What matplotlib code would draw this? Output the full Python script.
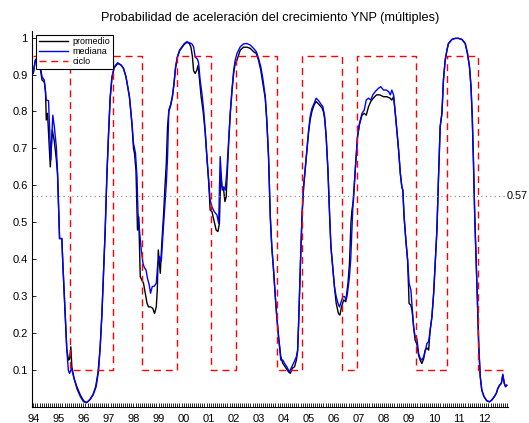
import matplotlib
matplotlib.use("Agg")
import matplotlib.pyplot as plt
import numpy as np

plt.rcParams['font.family'] = ['Liberation Sans', 'DejaVu Sans']

title = "Probabilidad de aceleración del crecimiento YNP (múltiples)"
year_labels = ["94", "95", "96", "97", "98", "99", "00", "01", "02", "03",
               "04", "05", "06", "07", "08", "09", "10", "11", "12"]
threshold = 0.57

mediana_t = [1994.00, 1994.08, 1994.21, 1994.35, 1994.44, 1994.52, 1994.61, 1994.70, 1994.78, 1994.84,
             1994.92, 1994.97, 1995.01, 1995.05, 1995.14, 1995.18, 1995.24, 1995.29, 1995.34, 1995.40,
             1995.45, 1995.53, 1995.61, 1995.74, 1995.88, 1996.01, 1996.14, 1996.27, 1996.41, 1996.51,
             1996.61, 1996.67, 1996.74, 1996.81, 1996.87, 1996.94, 1997.01, 1997.07, 1997.14, 1997.23,
             1997.37, 1997.50, 1997.60, 1997.70, 1997.78, 1997.84, 1997.94, 1998.00, 1998.08, 1998.14,
             1998.18, 1998.24, 1998.31, 1998.38, 1998.43, 1998.50, 1998.56, 1998.63, 1998.68, 1998.75,
             1998.83, 1998.91, 1998.97, 1999.04, 1999.11, 1999.17, 1999.24, 1999.31, 1999.36, 1999.41,
             1999.48, 1999.55, 1999.61, 1999.68, 1999.75, 1999.84, 1999.93, 2000.03, 2000.13, 2000.24,
             2000.33, 2000.40, 2000.46, 2000.56, 2000.60, 2000.66, 2000.73, 2000.80, 2000.86, 2000.93,
             2001.00, 2001.06, 2001.13, 2001.22, 2001.33, 2001.40, 2001.46, 2001.50, 2001.54, 2001.60,
             2001.66, 2001.73, 2001.80, 2001.86, 2001.93, 2002.00, 2002.06, 2002.13, 2002.26, 2002.39,
             2002.53, 2002.66, 2002.79, 2002.90, 2002.99, 2003.08, 2003.16, 2003.26, 2003.32, 2003.39,
             2003.46, 2003.52, 2003.59, 2003.66, 2003.72, 2003.79, 2003.88, 2003.96, 2004.03, 2004.12,
             2004.22, 2004.32, 2004.42, 2004.50, 2004.55, 2004.59, 2004.63, 2004.68, 2004.73, 2004.79,
             2004.85, 2004.92, 2004.99, 2005.05, 2005.12, 2005.21, 2005.29, 2005.39, 2005.48, 2005.56,
             2005.63, 2005.69, 2005.76, 2005.83, 2005.88, 2005.94, 2006.02, 2006.09, 2006.16, 2006.22,
             2006.29, 2006.36, 2006.42, 2006.49, 2006.54, 2006.62, 2006.67, 2006.76, 2006.85, 2006.94,
             2007.02, 2007.12, 2007.21, 2007.29, 2007.38, 2007.47, 2007.55, 2007.65, 2007.78, 2007.87,
             2007.98, 2008.09, 2008.18, 2008.25, 2008.31, 2008.38, 2008.45, 2008.51, 2008.58, 2008.65,
             2008.71, 2008.75, 2008.80, 2008.87, 2008.94, 2009.00, 2009.07, 2009.12, 2009.18, 2009.24,
             2009.31, 2009.38, 2009.44, 2009.51, 2009.58, 2009.64, 2009.71, 2009.78, 2009.84, 2009.91,
             2009.98, 2010.04, 2010.11, 2010.17, 2010.24, 2010.31, 2010.37, 2010.44, 2010.51, 2010.57,
             2010.71, 2010.84, 2010.97, 2011.11, 2011.24, 2011.33, 2011.41, 2011.47, 2011.52, 2011.57,
             2011.62, 2011.68, 2011.73, 2011.78, 2011.84, 2011.90, 2011.99, 2012.10, 2012.21, 2012.30,
             2012.40, 2012.48, 2012.54, 2012.61, 2012.68, 2012.74, 2012.80, 2012.85, 2012.90]
mediana_v = [0.903, 0.939, 0.950, 0.894, 0.885, 0.831, 0.829, 0.669, 0.790, 0.759,
             0.705, 0.632, 0.542, 0.456, 0.456, 0.389, 0.299, 0.226, 0.154, 0.100,
             0.091, 0.105, 0.082, 0.050, 0.028, 0.014, 0.012, 0.021, 0.037, 0.055,
             0.100, 0.163, 0.253, 0.371, 0.479, 0.632, 0.750, 0.840, 0.894, 0.921,
             0.932, 0.926, 0.917, 0.894, 0.863, 0.840, 0.768, 0.714, 0.687, 0.623,
             0.524, 0.479, 0.425, 0.389, 0.378, 0.371, 0.348, 0.330, 0.308, 0.326,
             0.327, 0.335, 0.389, 0.407, 0.395, 0.461, 0.533, 0.605, 0.678, 0.804,
             0.818, 0.840, 0.872, 0.921, 0.948, 0.966, 0.975, 0.984, 0.989, 0.986,
             0.983, 0.975, 0.948, 0.941, 0.930, 0.885, 0.849, 0.804, 0.750, 0.678,
             0.614, 0.560, 0.542, 0.529, 0.520, 0.497, 0.678, 0.632, 0.587, 0.596,
             0.587, 0.642, 0.723, 0.795, 0.858, 0.912, 0.939, 0.957, 0.975, 0.983,
             0.984, 0.980, 0.971, 0.962, 0.944, 0.921, 0.890, 0.840, 0.777, 0.678,
             0.515, 0.434, 0.371, 0.299, 0.244, 0.190, 0.127, 0.127, 0.118, 0.109,
             0.095, 0.109, 0.123, 0.136, 0.154, 0.226, 0.317, 0.425, 0.524, 0.596,
             0.642, 0.696, 0.750, 0.786, 0.808, 0.822, 0.836, 0.829, 0.820, 0.813,
             0.786, 0.732, 0.642, 0.515, 0.434, 0.389, 0.326, 0.299, 0.281, 0.271,
             0.285, 0.299, 0.299, 0.290, 0.308, 0.353, 0.400, 0.551, 0.642, 0.732,
             0.768, 0.795, 0.804, 0.831, 0.836, 0.831, 0.845, 0.854, 0.863, 0.867,
             0.858, 0.858, 0.854, 0.845, 0.858, 0.845, 0.795, 0.750, 0.696, 0.632,
             0.596, 0.587, 0.515, 0.452, 0.398, 0.335, 0.317, 0.271, 0.217, 0.190,
             0.186, 0.145, 0.132, 0.127, 0.136, 0.150, 0.172, 0.177, 0.208, 0.244,
             0.308, 0.389, 0.479, 0.614, 0.759, 0.795, 0.885, 0.939, 0.966, 0.984,
             0.995, 0.998, 0.998, 0.995, 0.984, 0.957, 0.921, 0.867, 0.786, 0.660,
             0.515, 0.389, 0.280, 0.163, 0.082, 0.046, 0.028, 0.017, 0.014, 0.019,
             0.028, 0.037, 0.050, 0.059, 0.064, 0.089, 0.064, 0.055, 0.059]

promedio_t = [1994.00, 1994.08, 1994.21, 1994.35, 1994.44, 1994.49, 1994.52, 1994.57, 1994.68, 1994.76,
              1994.84, 1994.92, 1994.97, 1995.01, 1995.05, 1995.14, 1995.18, 1995.24, 1995.29, 1995.34,
              1995.41, 1995.45, 1995.50, 1995.54, 1995.63, 1995.74, 1995.88, 1996.01, 1996.12, 1996.25,
              1996.38, 1996.49, 1996.58, 1996.67, 1996.74, 1996.81, 1996.87, 1996.94, 1997.01, 1997.07,
              1997.14, 1997.23, 1997.37, 1997.50, 1997.60, 1997.70, 1997.78, 1997.84, 1997.94, 1998.00,
              1998.04, 1998.10, 1998.16, 1998.21, 1998.27, 1998.33, 1998.40, 1998.47, 1998.54, 1998.60,
              1998.69, 1998.77, 1998.84, 1998.91, 1998.95, 1998.99, 1999.07, 1999.13, 1999.20, 1999.26,
              1999.31, 1999.36, 1999.41, 1999.48, 1999.55, 1999.61, 1999.68, 1999.75, 1999.84, 1999.93,
              2000.03, 2000.13, 2000.22, 2000.29, 2000.35, 2000.40, 2000.46, 2000.53, 2000.58, 2000.63,
              2000.70, 2000.78, 2000.86, 2000.93, 2001.00, 2001.06, 2001.13, 2001.22, 2001.30, 2001.37,
              2001.43, 2001.48, 2001.53, 2001.60, 2001.65, 2001.70, 2001.75, 2001.81, 2001.87, 2001.93,
              2002.00, 2002.06, 2002.13, 2002.26, 2002.39, 2002.53, 2002.66, 2002.79, 2002.90, 2002.99,
              2003.08, 2003.18, 2003.26, 2003.32, 2003.39, 2003.46, 2003.52, 2003.59, 2003.66, 2003.72,
              2003.79, 2003.88, 2003.96, 2004.05, 2004.19, 2004.26, 2004.34, 2004.43, 2004.50, 2004.55,
              2004.59, 2004.63, 2004.68, 2004.73, 2004.79, 2004.85, 2004.92, 2004.99, 2005.05, 2005.12,
              2005.21, 2005.29, 2005.39, 2005.52, 2005.58, 2005.63, 2005.69, 2005.76, 2005.83, 2005.88,
              2005.94, 2006.02, 2006.09, 2006.18, 2006.24, 2006.30, 2006.39, 2006.47, 2006.56, 2006.62,
              2006.68, 2006.72, 2006.78, 2006.85, 2006.94, 2007.02, 2007.12, 2007.21, 2007.29, 2007.38,
              2007.47, 2007.57, 2007.70, 2007.83, 2007.98, 2008.11, 2008.24, 2008.31, 2008.38, 2008.45,
              2008.51, 2008.58, 2008.65, 2008.71, 2008.75, 2008.80, 2008.87, 2008.94, 2009.00, 2009.07,
              2009.12, 2009.18, 2009.24, 2009.31, 2009.38, 2009.44, 2009.51, 2009.58, 2009.64, 2009.71,
              2009.78, 2009.84, 2009.91, 2009.98, 2010.04, 2010.11, 2010.17, 2010.24, 2010.31, 2010.37,
              2010.44, 2010.51, 2010.57, 2010.71, 2010.84, 2010.97, 2011.11, 2011.24, 2011.33, 2011.41,
              2011.47, 2011.52, 2011.57, 2011.62, 2011.68, 2011.73, 2011.78, 2011.84, 2011.90, 2011.99,
              2012.10, 2012.21, 2012.30, 2012.40, 2012.48, 2012.54, 2012.61, 2012.68, 2012.74, 2012.80,
              2012.85, 2012.90]
promedio_v = [0.903, 0.937, 0.948, 0.885, 0.880, 0.853, 0.777, 0.795, 0.650, 0.750,
              0.720, 0.670, 0.630, 0.542, 0.456, 0.456, 0.389, 0.299, 0.226, 0.154,
              0.127, 0.130, 0.163, 0.109, 0.077, 0.055, 0.032, 0.017, 0.012, 0.019,
              0.032, 0.055, 0.091, 0.160, 0.250, 0.368, 0.476, 0.628, 0.745, 0.835,
              0.890, 0.918, 0.930, 0.926, 0.917, 0.894, 0.863, 0.838, 0.765, 0.700,
              0.687, 0.640, 0.479, 0.515, 0.353, 0.344, 0.335, 0.308, 0.281, 0.271,
              0.271, 0.267, 0.253, 0.271, 0.317, 0.425, 0.362, 0.443, 0.520, 0.600,
              0.660, 0.760, 0.800, 0.815, 0.838, 0.870, 0.918, 0.946, 0.964, 0.973,
              0.982, 0.987, 0.985, 0.975, 0.950, 0.910, 0.903, 0.912, 0.925, 0.890,
              0.840, 0.800, 0.745, 0.675, 0.610, 0.533, 0.529, 0.502, 0.479, 0.475,
              0.497, 0.632, 0.596, 0.587, 0.556, 0.569, 0.642, 0.730, 0.800, 0.855,
              0.905, 0.930, 0.939, 0.966, 0.974, 0.974, 0.971, 0.962, 0.957, 0.939,
              0.912, 0.870, 0.835, 0.775, 0.678, 0.515, 0.434, 0.371, 0.299, 0.244,
              0.190, 0.136, 0.118, 0.109, 0.095, 0.091, 0.105, 0.109, 0.127, 0.150,
              0.226, 0.317, 0.425, 0.524, 0.596, 0.640, 0.690, 0.745, 0.777, 0.800,
              0.818, 0.827, 0.820, 0.810, 0.800, 0.780, 0.732, 0.642, 0.515, 0.434,
              0.389, 0.326, 0.281, 0.253, 0.249, 0.271, 0.290, 0.285, 0.335, 0.389,
              0.500, 0.533, 0.560, 0.640, 0.730, 0.765, 0.790, 0.795, 0.790, 0.813,
              0.827, 0.836, 0.845, 0.845, 0.840, 0.840, 0.836, 0.831, 0.840, 0.795,
              0.750, 0.696, 0.632, 0.596, 0.587, 0.515, 0.452, 0.398, 0.280, 0.276,
              0.260, 0.217, 0.181, 0.170, 0.140, 0.127, 0.118, 0.130, 0.154, 0.160,
              0.154, 0.208, 0.244, 0.308, 0.389, 0.479, 0.614, 0.759, 0.795, 0.885,
              0.939, 0.966, 0.984, 0.995, 0.998, 0.998, 0.995, 0.984, 0.957, 0.921,
              0.867, 0.786, 0.660, 0.515, 0.389, 0.280, 0.163, 0.082, 0.046, 0.028,
              0.017, 0.014, 0.019, 0.028, 0.037, 0.050, 0.059, 0.064, 0.086, 0.064,
              0.055, 0.059]

ciclo_t = [1994.00, 1995.48, 1997.18, 1998.34, 1999.73, 2001.08, 2002.08, 2003.72,
           2004.74, 2006.34, 2006.94, 2009.28, 2010.51, 2011.75, 2012.90]
ciclo_v = [0.95, 0.10, 0.95, 0.10, 0.95, 0.10, 0.95, 0.10,
           0.95, 0.10, 0.95, 0.10, 0.95, 0.10, 0.10]

fig = plt.figure(figsize=(5.29, 4.23), dpi=100)
ax = fig.add_axes([0.0605, 0.0378, 0.899, 0.889])

ax.plot(promedio_t, promedio_v, color='black', lw=1.0, label='promedio')
ax.plot(mediana_t, mediana_v, color='blue', lw=1.0, label='mediana')
ax.plot(ciclo_t, ciclo_v, color='red', lw=1.0, ls=(0, (5, 3.5)), drawstyle='steps-post', label='ciclo')
ax.axhline(threshold, color='gray', lw=0.8, ls=(0, (1, 3)))

ax.set_xlim(1993.95, 2012.93)
ax.set_ylim(0.0, 1.018)

ax.set_yticks(np.round(np.arange(0.1, 1.01, 0.1), 1))
ax.set_yticklabels(["0.1", "0.2", "0.3", "0.4", "0.5", "0.6", "0.7", "0.8", "0.9", "1"])
years = np.arange(1994, 1994 + len(year_labels))
ax.set_xticks(years)
ax.set_xticklabels(year_labels)
ax.set_xticks(np.arange(1994, 2012.95, 1 / 12), minor=True)
ax.tick_params(axis='x', which='both', direction='in', length=3, width=0.6, pad=5, labelsize=8)
ax.tick_params(axis='y', direction='in', length=3, width=0.6, pad=3, labelsize=8)

for s in ['top', 'right']:
    ax.spines[s].set_visible(False)
for s in ['left', 'bottom']:
    ax.spines[s].set_linewidth(0.8)

ax.text(0.999, threshold, "0.57", transform=ax.get_yaxis_transform(), va='center', ha='left', fontsize=7.8)

ax.set_title(title, fontsize=9.2, pad=7)

leg = ax.legend(loc='upper left', bbox_to_anchor=(0.005, 0.995), fontsize=6.5, frameon=True, fancybox=False,
                edgecolor='black', framealpha=1, borderpad=0.3, labelspacing=0.1, handlelength=3.2,
                handletextpad=0.5, borderaxespad=0.2)
leg.get_frame().set_linewidth(0.8)

fig.savefig("out.png", dpi=100)
